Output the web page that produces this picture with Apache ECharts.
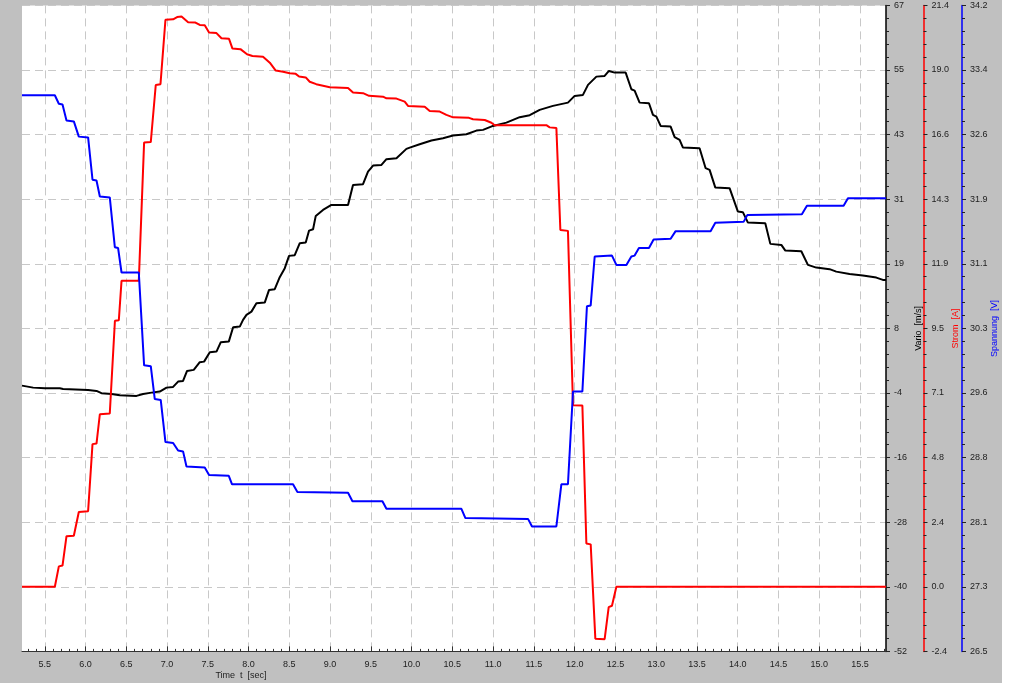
<!DOCTYPE html>
<html>
<head>
<meta charset="utf-8">
<title>Vario / Strom / Spannung</title>
<script src="https://cdn.jsdelivr.net/npm/echarts@6/dist/echarts.min.js"></script>
<style>
  html, body { margin: 0; padding: 0; background: #fff; }
  #chart { width: 1002px; height: 683px; }
</style>
</head>
<body>
<div id="chart"></div>
<script>
  // time axis [sec]
  const timeTicks = [5.5, 6.0, 6.5, 7.0, 7.5, 8.0, 8.5, 9.0, 9.5, 10.0, 10.5, 11.0, 11.5, 12.0, 12.5, 13.0, 13.5, 14.0, 14.5, 15.0, 15.5];

  // Vario [m/s]  -> [t, value]
  const vario = [
    [5.22, -3.04], [5.357, -3.41], [5.5, -3.52], [5.684, -3.52], [5.724, -3.65], [6.031, -3.83], [6.134, -4.01],
    [6.195, -4.44], [6.318, -4.57], [6.42, -4.81], [6.625, -4.93], [6.706, -4.57], [6.809, -4.33], [6.91, -4.14],
    [6.993, -3.41], [7.074, -3.28], [7.135, -2.3], [7.196, -2.17], [7.245, -0.33], [7.327, -0.14], [7.401, 1.27],
    [7.454, 1.38], [7.524, 3.12], [7.606, 3.23], [7.659, 4.96], [7.757, 5.07], [7.81, 7.72], [7.892, 7.83],
    [7.932, 9.07], [7.974, 9.99], [8.035, 10.59], [8.096, 12.14], [8.198, 12.25], [8.251, 14.59], [8.321, 14.72],
    [8.382, 16.93], [8.444, 18.59], [8.496, 20.86], [8.566, 20.98], [8.628, 23.19], [8.701, 23.31], [8.742, 25.52],
    [8.791, 25.77], [8.824, 28.22], [8.913, 29.33], [9.016, 30.25], [9.22, 30.25], [9.281, 33.93], [9.404, 34.06],
    [9.465, 36.38], [9.527, 37.49], [9.63, 37.62], [9.691, 38.67], [9.814, 38.85], [9.936, 40.57], [9.977, 40.81],
    [10.099, 41.43], [10.243, 42.1], [10.385, 42.54], [10.508, 43.02], [10.672, 43.27], [10.795, 43.94], [10.876, 44.07],
    [10.998, 44.8], [11.163, 45.41], [11.326, 46.41], [11.449, 46.77], [11.571, 47.75], [11.734, 48.49], [11.918, 49.09],
    [12.0, 50.33], [12.102, 50.51], [12.164, 52.36], [12.267, 53.88], [12.368, 54.01], [12.421, 54.93], [12.491, 54.62],
    [12.626, 54.62], [12.696, 51.56], [12.736, 51.31], [12.797, 49.09], [12.912, 48.98], [12.961, 46.83], [13.003, 46.52],
    [13.055, 44.8], [13.178, 44.67], [13.227, 42.72], [13.288, 42.22], [13.329, 40.81], [13.533, 40.69], [13.607, 37.01],
    [13.656, 36.7], [13.726, 33.44], [13.901, 33.33], [14.003, 29.02], [14.064, 28.91], [14.126, 26.99], [14.339, 26.88],
    [14.401, 23.07], [14.536, 22.88], [14.585, 21.83], [14.781, 21.72], [14.862, 19.2], [14.965, 18.7], [15.128, 18.41],
    [15.21, 17.96], [15.373, 17.54], [15.536, 17.23], [15.701, 16.86], [15.782, 16.43], [15.82, 16.43]
  ];

  // Strom [A]
  const strom = [
    [5.22, 0.0], [5.623, 0.0], [5.672, 0.75], [5.717, 0.78], [5.766, 1.86], [5.856, 1.88], [5.917, 2.75], [6.031, 2.78],
    [6.085, 5.25], [6.134, 5.27], [6.175, 6.35], [6.297, 6.38], [6.36, 9.79], [6.408, 9.81], [6.441, 11.26], [6.653, 11.26],
    [6.718, 16.35], [6.8, 16.37], [6.861, 18.47], [6.919, 18.5], [6.98, 20.87], [7.074, 20.89], [7.123, 20.97], [7.177, 20.99],
    [7.258, 20.78], [7.348, 20.77], [7.401, 20.68], [7.462, 20.67], [7.515, 20.4], [7.606, 20.38], [7.667, 20.19], [7.76, 20.17],
    [7.802, 19.81], [7.9, 19.79], [7.981, 19.6], [8.047, 19.54], [8.177, 19.51], [8.26, 19.29], [8.333, 19.0], [8.423, 18.96],
    [8.505, 18.9], [8.578, 18.88], [8.619, 18.78], [8.701, 18.75], [8.75, 18.59], [8.83, 18.5], [8.996, 18.39], [9.22, 18.36],
    [9.281, 18.19], [9.404, 18.17], [9.478, 18.07], [9.649, 18.04], [9.691, 17.98], [9.814, 17.97], [9.915, 17.86], [9.956, 17.7],
    [10.161, 17.67], [10.222, 17.51], [10.345, 17.49], [10.427, 17.37], [10.508, 17.28], [10.704, 17.26], [10.753, 17.21],
    [10.897, 17.18], [10.979, 17.08], [11.019, 16.99], [11.653, 16.99], [11.694, 16.91], [11.776, 16.89], [11.825, 13.13],
    [11.918, 13.1], [11.98, 6.68], [12.095, 6.67], [12.144, 1.59], [12.197, 1.56], [12.254, -1.91], [12.368, -1.93],
    [12.418, -0.75], [12.458, -0.7], [12.512, 0.0], [15.82, 0.0]
  ];

  // Spannung [V]
  const spannung = [
    [5.22, 33.11], [5.623, 33.11], [5.672, 33.01], [5.717, 33.0], [5.766, 32.81], [5.856, 32.8], [5.917, 32.62], [6.031, 32.61],
    [6.085, 32.11], [6.134, 32.1], [6.175, 31.91], [6.297, 31.9], [6.359, 31.31], [6.399, 31.3], [6.441, 31.01], [6.653, 31.01],
    [6.718, 29.91], [6.8, 29.9], [6.849, 29.51], [6.922, 29.5], [6.98, 29.0], [7.074, 28.99], [7.135, 28.9], [7.196, 28.89],
    [7.238, 28.71], [7.462, 28.7], [7.515, 28.61], [7.757, 28.6], [7.797, 28.5], [8.545, 28.5], [8.599, 28.41], [9.22, 28.4],
    [9.274, 28.3], [9.642, 28.3], [9.691, 28.21], [10.611, 28.21], [10.66, 28.1], [11.428, 28.09], [11.477, 28.0], [11.776, 28.0],
    [11.837, 28.5], [11.918, 28.5], [11.98, 29.6], [12.095, 29.6], [12.151, 30.61], [12.197, 30.62], [12.246, 31.2], [12.458, 31.21],
    [12.512, 31.1], [12.635, 31.1], [12.696, 31.2], [12.736, 31.21], [12.789, 31.3], [12.912, 31.3], [12.969, 31.4], [13.178, 31.41],
    [13.239, 31.5], [13.668, 31.5], [13.726, 31.6], [14.073, 31.61], [14.118, 31.69], [14.788, 31.7], [14.85, 31.8], [15.3, 31.8],
    [15.353, 31.89], [15.82, 31.89]
  ];

  const font = 'Liberation Sans, Arial, sans-serif';
  const labelColor = '#222';

  // small ticks every 0.1 s
  let timeMinor = [];
  for (let i = 53; i <= 158; i++) {
    timeMinor.push(i / 10);
  }

  function rightAxis(name, color, min, interval, offset, gap, fmt) {
    return {
      type: 'value',
      position: 'right',
      offset: offset,
      min: min,
      max: +(min + 10 * interval).toFixed(4),
      interval: interval,
      name: name,
      nameLocation: 'middle',
      nameRotate: 90,
      nameGap: gap,
      nameMoveOverlap: false,
      nameTextStyle: {color: color, fontSize: 9, fontFamily: font},
      axisLine: {show: true, onZero: false, lineStyle: {color: color, width: 1.5}},
      axisTick: {show: true, length: 4, lineStyle: {color: '#222'}},
      minorTick: {show: true, splitNumber: 5, length: 3, lineStyle: {color: '#222'}},
      axisLabel: {color: labelColor, fontSize: 9, fontFamily: font, margin: 8, formatter: fmt},
      splitLine: {show: false}
    };
  }

  let chart = echarts.init(document.getElementById('chart'));

  let yVario = rightAxis('Vario  [m/s]', '#000', -52, 11.9, 0, 28, function (v) {
    return String(Math.round(v));
  });
  yVario.splitLine = {show: true, lineStyle: {color: '#c8c8c8', width: 1, type: [8, 5]}};

  let yStrom = rightAxis('Strom  [A]', '#ff0000', -2.38, 2.378, 37.5, 28, function (v) {
    let s = v.toFixed(1);
    return s === '-0.0' ? '0.0' : s;
  });

  let ySpannung = rightAxis('Spannung  [V]', '#0000ff', 26.52, 0.7655, 76, 28, function (v) {
    return v.toFixed(1);
  });

  let option = {
    backgroundColor: '#c0c0c0',
    animation: false,
    grid: {
      left: 22,
      right: 116,
      top: 5.4,
      bottom: 31.6,
      outerBoundsMode: 'none',
      containLabel: false,
      show: true,
      backgroundColor: '#fff',
      borderWidth: 0
    },
    xAxis: [{
      type: 'value',
      position: 'bottom',
      min: 5.22,
      max: 15.82,
      name: 'Time  t  [sec]',
      nameLocation: 'middle',
      nameGap: 20,
      nameMoveOverlap: false,
      nameTextStyle: {color: labelColor, fontSize: 9, fontFamily: font, padding: [0, 426, 0, 0]},
      axisLine: {show: true, onZero: false, lineStyle: {color: '#333', width: 1}},
      axisTick: {show: true, inside: true, length: 5, customValues: timeTicks, lineStyle: {color: '#333'}},
      axisLabel: {
        customValues: timeTicks, color: labelColor, fontSize: 9, fontFamily: font, margin: 9,
        formatter: function (v) { return v.toFixed(1); }
      },
      splitLine: {show: true, lineStyle: {color: '#c8c8c8', width: 1, type: [8, 5]}}
    }, {
      type: 'value',
      position: 'bottom',
      min: 5.22,
      max: 15.82,
      axisLine: {show: false, onZero: false},
      axisTick: {show: true, inside: true, length: 2.5, customValues: timeMinor, lineStyle: {color: '#333'}},
      axisLabel: {show: false},
      splitLine: {show: false}
    }],
    yAxis: [yVario, yStrom, ySpannung],
    series: [{
      name: 'Vario',
      type: 'line',
      xAxisIndex: 0,
      yAxisIndex: 0,
      symbol: 'none',
      lineStyle: {color: '#000', width: 2},
      data: vario
    }, {
      name: 'Strom',
      type: 'line',
      xAxisIndex: 0,
      yAxisIndex: 1,
      symbol: 'none',
      lineStyle: {color: '#ff0000', width: 2},
      data: strom
    }, {
      name: 'Spannung',
      type: 'line',
      xAxisIndex: 0,
      yAxisIndex: 2,
      symbol: 'none',
      lineStyle: {color: '#0000ff', width: 2},
      data: spannung
    }]
  };
  chart.setOption(option);
</script>
</body>
</html>
